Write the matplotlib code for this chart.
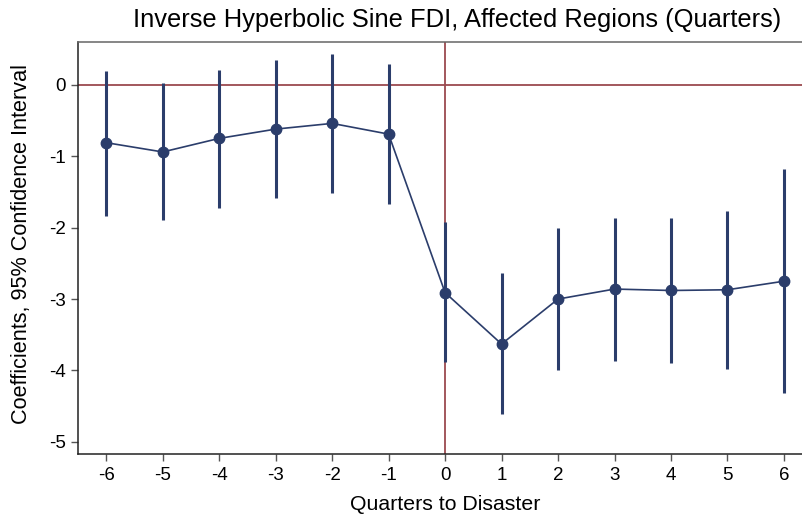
import matplotlib
matplotlib.use("Agg")
import matplotlib.pyplot as plt

quarters = [-6, -5, -4, -3, -2, -1, 0, 1, 2, 3, 4, 5, 6]
coef = [-0.81, -0.94, -0.75, -0.62, -0.54, -0.69, -2.91, -3.63, -3.00, -2.86, -2.88, -2.87, -2.75]
ci_low = [-1.83, -1.89, -1.72, -1.58, -1.51, -1.67, -3.88, -4.61, -4.00, -3.87, -3.90, -3.98, -4.32]
ci_high = [0.20, 0.02, 0.21, 0.35, 0.43, 0.29, -1.92, -2.64, -2.01, -1.86, -1.87, -1.77, -1.18]
yticks = [0, -1, -2, -3, -4, -5]

plt.rcParams['font.family'] = ['Liberation Sans', 'DejaVu Sans']

W, H = 802, 522
fig = plt.figure(figsize=(W / 100, H / 100), dpi=100)
ax = fig.add_axes([78 / W, (H - 454) / H, (W - 78) / W, (454 - 42) / H])

navy = '#2b3d6b'
red = '#9b4a4f'

ax.axhline(0, color=red, lw=1.3, zorder=1)
ax.axvline(0, color=red, lw=1.3, zorder=1)
ax.vlines(quarters, ci_low, ci_high, color=navy, lw=2.2, zorder=2)
ax.plot(quarters, coef, color=navy, lw=1.2, marker='o', markersize=7.5, zorder=3)

ax.set_xlim(-6.5, 6.32)
ax.set_ylim(-5.17, 0.6)
ax.set_xticks(quarters)
ax.set_xticklabels([str(q) for q in quarters])
ax.set_yticks(yticks)
ax.set_yticklabels([str(t) for t in yticks])
ax.tick_params(axis='both', labelsize=13.5, length=5, width=1, color='#555555', pad=4)

ax.spines['right'].set_visible(False)
ax.spines['top'].set_color('#666666')
ax.spines['left'].set_color('#222222')
ax.spines['bottom'].set_color('#222222')
for s in ax.spines.values():
    s.set_linewidth(1.1)

fig.text(457 / W, 1 - 20 / H, 'Inverse Hyperbolic Sine FDI, Affected Regions (Quarters)',
         ha='center', va='center', fontsize=18.4)
fig.text(445 / W, 1 - 505 / H, 'Quarters to Disaster', ha='center', va='center', fontsize=15.3)
fig.text(22 / W, 1 - 244 / H, 'Coefficients, 95% Confidence Interval', ha='center', va='center',
         rotation=90, fontsize=15.6)

fig.savefig('out.png', dpi=100)
